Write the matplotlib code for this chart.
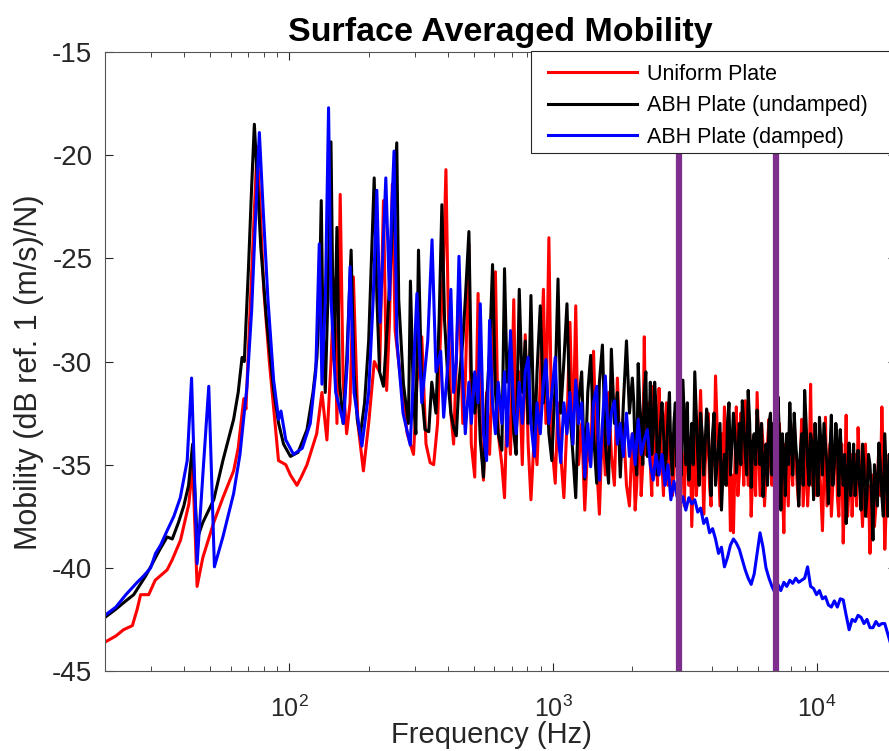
import numpy as np
import matplotlib
matplotlib.use("Agg")
from matplotlib import pyplot as plt
from matplotlib.patches import Rectangle

plt.rcParams['font.family'] = ['Liberation Sans', 'DejaVu Sans']
plt.rcParams['mathtext.fontset'] = 'custom'
plt.rcParams['mathtext.rm'] = 'Liberation Sans'
plt.rcParams['mathtext.it'] = 'Liberation Sans:italic'
plt.rcParams['mathtext.bf'] = 'Liberation Sans:bold'
plt.rcParams['axes.unicode_minus'] = False

# ---- low frequency part (resonances), each curve on its own points ----
uniform_f = [20, 22, 23.5, 25.4, 26.5, 27.3, 29.3, 31.0, 33, 34.4,
             36.0, 38.7, 41.6, 43.0, 44.7, 47, 51.7, 56, 61.5, 64,
             67.2, 68.5, 71, 73.5, 75.5, 77.5, 80, 84, 91, 97,
             101, 106.9, 111, 116.7, 127, 133, 138.9, 144, 148, 151.6,
             156, 160, 165, 170, 175, 182, 191, 200, 210, 220,
             227.6, 234, 240, 245.9, 252, 265, 280, 295.9, 305, 318,
             330, 342, 352.8, 365, 375, 385, 392.7]
uniform_db = [-43.6, -43.3, -43.0, -42.8, -42.0, -41.3, -41.3, -40.6, -40.3, -40.1,
              -39.6, -38.65, -36.9, -35.0, -40.9, -39.5, -37.8, -36.6, -35.3, -34.2,
              -31.8, -32.3, -27.5, -23.0, -19.6, -22.5, -26.5, -30.0, -34.8, -35.0,
              -35.5, -36.0, -35.6, -35.0, -33.5, -31.5, -33.8, -30.0, -26.0, -33.0,
              -21.9, -31.0, -33.5, -32.0, -25.9, -33.0, -35.3, -33.0, -30.0, -30.5,
              -22.2, -31.4, -28.0, -21.4, -28.5, -31.0, -33.5, -34.5, -31.0, -28.8,
              -34.0, -34.9, -35.0, -33.0, -28.5, -25.0, -20.7]

undamped_f = [20, 22, 24, 25.7, 26.9, 28.5, 29.8, 32, 34.4, 36.0,
              38, 39.8, 41.5, 43.0, 44.7, 47, 51.7, 56, 61.5, 64,
              66.2, 67.5, 70, 72, 73.7, 75.5, 78, 82, 87.2, 91.1,
              95.1, 101, 108, 116.7, 123, 127.3, 130, 132.2, 134, 136.9,
              140, 143.9, 146, 148, 151.6, 155, 160, 165, 171.6, 176,
              181, 185.8, 193, 200, 209.9, 215, 220, 227.6, 236, 245,
              250, 255.6, 260, 271, 283, 288, 296, 302, 309, 318,
              327, 338, 347, 360, 370, 379, 388]
undamped_db = [-42.4, -42.0, -41.6, -41.3, -40.9, -40.4, -39.95, -39.2, -38.5, -38.6,
               -37.8, -37.0, -36.0, -34.0, -38.6, -37.8, -36.7, -34.8, -32.8, -31.5,
               -29.8, -30.0, -25.5, -21.5, -18.5, -21.0, -24.5, -28.0, -31.4, -33.0,
               -34.0, -34.6, -34.4, -33.3, -31.5, -29.8, -27.0, -22.2, -28.0, -31.5,
               -27.0, -19.35, -26.0, -30.0, -23.5, -31.0, -33.0, -30.0, -24.6, -30.5,
               -32.8, -33.6, -32.0, -29.0, -21.1, -27.0, -30.5, -31.2, -28.0, -24.0,
               -22.0, -19.4, -27.0, -31.1, -33.0, -26.1, -32.0, -33.5, -24.6, -31.5,
               -33.3, -33.4, -31.0, -32.5, -28.0, -22.4, -28.0]

damped_f = [20, 22, 24, 26.5, 28, 29.8, 31.1, 32.5, 34.4, 36.5,
            38.6, 41.0, 42.6, 44.7, 47, 49.5, 52.0, 56, 61.5, 65,
            69.1, 72, 74.5, 77.0, 79.5, 83, 87.2, 91.1, 93, 97,
            103.8, 112, 120.1, 126, 129.9, 133, 137, 140.9, 144, 150,
            160.5, 166, 170.1, 176, 188.5, 200, 208, 214.8, 221, 232.3,
            240, 244, 249.6, 256, 270, 287.6, 297, 304.8, 318, 335,
            347.8, 360, 375, 385]
damped_db = [-42.3, -41.9, -41.3, -40.7, -40.4, -40.0, -39.3, -38.9, -38.2, -37.5,
             -36.6, -34.8, -30.8, -39.8, -35.5, -31.2, -39.95, -38.5, -36.4, -34.5,
             -31.2, -27.5, -23.0, -18.9, -22.5, -27.0, -30.9, -32.8, -32.4, -33.8,
             -34.5, -34.2, -33.0, -30.5, -24.3, -31.1, -27.0, -17.7, -27.0, -31.5,
             -33.0, -30.0, -25.4, -31.5, -34.1, -31.5, -27.0, -21.7, -28.1, -21.1,
             -27.0, -23.0, -19.8, -29.0, -32.5, -34.05, -30.0, -26.7, -32.0, -29.0,
             -24.1, -30.5, -29.5, -32.7]

# ---- high frequency part, common frequency points ----
f_hi = [400, 410, 420, 430, 440, 455, 465, 480, 490, 505,
        520, 530, 545, 560, 575, 590, 605, 620, 640, 655,
        670, 690, 710, 725, 745, 765, 785, 805, 825, 850,
        870, 895, 920, 940, 965, 990, 1020, 1045, 1070, 1100,
        1130, 1160, 1190, 1220, 1250, 1285, 1320, 1355, 1390, 1425,
        1465, 1500, 1540, 1580, 1625, 1665, 1710, 1755, 1800, 1850,
        1900, 1950, 2000, 2050, 2105, 2160, 2220, 2280, 2340, 2400,
        2460, 2525, 2590, 2660, 2730, 2800, 2875, 2950, 3030, 3110,
        3190, 3275, 3360, 3450, 3540, 3630, 3730, 3825, 3925, 4030,
        4135, 4245, 4355, 4470, 4590, 4710, 4835, 4960, 5090, 5225,
        5360, 5500, 5645, 5795, 5945, 6100, 6260, 6425, 6595, 6770,
        6945, 7130, 7315, 7510, 7705, 7910, 8115, 8330, 8550, 8775,
        9005, 9240, 9485, 9735, 9990, 10250, 10520, 10800, 11080, 11370,
        11670, 11980, 12290, 12610, 12940, 13280, 13630, 13990, 14360, 14740,
        15120, 15520, 15930, 16350, 16780, 17220, 17670, 18130, 18610, 19100,
        19600, 20000]

uniform_hi = [-27.0, -32.5, -34.0, -30.0, -26.0, -33.0, -31.0, -24.3, -34.0, -35.6,
              -26.7, -33.0, -35.75, -31.5, -34.5, -30.0, -25.65, -33.5, -35.0, -36.6,
              -32.0, -34.5, -27.0, -33.5, -30.5, -35.0, -28.7, -34.0, -36.7, -33.5,
              -35.0, -31.0, -26.5, -33.0, -24.0, -34.0, -35.9, -32.0, -34.5, -36.6,
              -33.0, -28.1, -34.0, -27.3, -35.0, -33.0, -37.2, -34.0, -35.0, -29.5,
              -35.0, -37.4, -33.0, -35.5, -31.5, -34.5, -36.0, -30.8, -35.0, -33.0,
              -36.0, -37.0, -33.5, -37.2, -34.0, -36.5, -28.8, -33.0, -35.0, -31.2,
              -34.0, -31.3, -35.0, -33.0, -36.0, -33.5, -35.5, -34.0, -36.5, -35.0,
              -33.5, -36.0, -38.0, -33.0, -35.5, -31.4, -37.4, -34.0, -36.0, -33.5,
              -30.7, -35.0, -33.5, -32.2, -36.0, -38.2, -38.3, -32.2, -35.5, -34.0,
              -31.9, -36.0, -37.5, -34.5, -31.5, -36.5, -34.0, -35.5, -32.8, -36.0,
              -34.5, -36.5, -35.0, -38.3, -35.5, -33.2, -36.0, -34.5, -37.0, -32.8,
              -35.5, -37.0, -31.1, -34.5, -36.5, -35.0, -38.2, -32.7, -35.5, -37.5,
              -34.5, -36.5, -35.0, -38.8, -32.6, -36.0, -37.5, -34.5, -33.2, -36.5,
              -35.0, -37.5, -39.3, -35.5, -37.0, -34.0, -32.2, -39.1, -36.0, -37.5,
              -35.5, -36.5]

undamped_hi = [-31.0, -32.5, -33.2, -33.6, -31.0, -29.0, -27.0, -23.7, -30.5, -32.5,
               -31.0, -33.8, -35.6, -32.0, -29.5, -25.3, -31.5, -33.5, -34.3, -25.5,
               -31.0, -29.0, -33.5, -34.5, -26.5, -31.5, -29.0, -33.0, -26.8, -34.3,
               -30.5, -27.3, -32.0, -30.0, -33.5, -34.8, -31.0, -26.0, -32.5, -30.0,
               -27.2, -32.5, -34.5, -36.6, -32.0, -30.5, -35.7, -31.5, -29.7, -33.5,
               -35.9, -31.0, -29.2, -34.0, -35.9, -29.4, -33.0, -31.5, -35.6, -32.0,
               -29.0, -32.5, -30.8, -34.5, -30.1, -33.0, -31.5, -34.6, -31.0, -33.5,
               -32.2, -34.5, -32.0, -35.3, -32.7, -34.5, -33.0, -35.1, -34.0, -30.9,
               -35.0, -35.75, -33.0, -30.5, -34.5, -32.5, -35.5, -32.3, -35.0, -33.5,
               -36.0, -34.0, -37.2, -34.5, -33.0, -35.5, -32.5, -35.4, -33.0, -31.9,
               -34.5, -31.4, -36.1, -33.5, -32.35, -35.0, -36.55, -34.0, -33.0, -35.5,
               -34.0, -31.7, -37.2, -34.5, -33.5, -32.0, -35.5, -34.0, -37.0, -33.5,
               -31.4, -35.0, -33.5, -36.7, -34.5, -32.7, -35.5, -34.0, -36.9, -32.6,
               -35.0, -34.0, -33.3, -36.0, -37.85, -33.95, -35.5, -36.5, -34.3, -37.2,
               -35.0, -36.5, -35.0, -38.65, -36.0, -33.95, -36.5, -33.5, -37.5, -35.5,
               -36.5, -35.5]

damped_hi = [-30.0, -26.5, -31.5, -30.0, -24.9, -31.0, -33.5, -31.0, -33.0, -30.5,
             -32.0, -27.2, -33.5, -34.8, -28.0, -32.0, -33.5, -31.0, -33.0, -30.5,
             -34.1, -28.5, -32.5, -33.5, -31.0, -33.0, -30.5, -29.8, -33.0, -34.6,
             -32.0, -33.5, -31.0, -29.9, -33.0, -31.5, -29.8, -33.5, -34.9, -32.0,
             -33.5, -31.5, -34.0, -30.9, -33.0, -32.0, -35.6, -33.0, -35.1, -32.0,
             -31.2, -35.75, -33.0, -30.7, -34.0, -32.5, -31.9, -34.0, -33.0, -34.6,
             -32.5, -34.6, -33.5, -35.0, -32.8, -34.5, -33.8, -33.3, -35.0, -35.75,
             -34.5, -35.5, -34.5, -36.0, -35.0, -36.7, -35.8, -36.5, -37.0, -36.55,
             -37.2, -36.6, -36.9, -36.7, -37.3, -37.1, -37.85, -37.6, -38.3, -38.1,
             -38.6, -39.3, -39.0, -39.95, -39.5, -38.9, -38.6, -38.8, -39.1, -39.6,
             -40.1, -40.5, -40.8, -40.3, -39.3, -38.3, -39.0, -40.0, -40.5, -40.9,
             -41.2, -40.8, -41.1, -40.7, -40.9, -40.6, -40.75, -40.5, -40.7, -40.6,
             -40.5, -39.95, -40.9, -41.0, -41.3, -41.1, -41.5, -41.4, -41.8, -41.9,
             -41.6, -41.9, -41.5, -41.55, -42.3, -43.0, -42.5, -42.6, -42.3, -42.4,
             -42.7, -42.5, -42.9, -42.9, -42.6, -42.8, -42.7, -42.7, -43.2, -43.7,
             -43.5, -43.8]

# ---- extra in-between points above 2 kHz (dense part of the two undamped curves) ----
f_mid = [2025, 2078, 2132, 2190, 2250, 2310, 2370, 2430, 2492, 2557,
         2625, 2695, 2765, 2837, 2912, 2990, 3070, 3150, 3232, 3317,
         3405, 3495, 3585, 3680, 3777, 3875, 3977, 4082, 4190, 4300,
         4412, 4530, 4650, 4772, 4897, 5025, 5157, 5292, 5430, 5572,
         5720, 5870, 6022, 6180, 6342, 6510, 6682, 6857, 7037, 7222,
         7412, 7607, 7807, 8012, 8222, 8440, 8662, 8890, 9122, 9362,
         9610, 9862, 10120, 10385, 10660, 10940, 11225, 11520, 11825, 12135,
         12450, 12775, 13110, 13455, 13810, 14175, 14550, 14930, 15320, 15725,
         16140, 16565, 17000, 17445, 17900, 18370, 18855, 19350, 19800]

uniform_mid = [-35.0, -36.0, -32.5, -35.0, -34.5, -32.0, -36.5, -35.5, -36.0, -33.5,
               -36.5, -32.0, -34.0, -36.5, -33.0, -35.0, -34.0, -37.0, -34.5, -34.0,
               -35.5, -36.5, -33.5, -34.5, -35.0, -32.5, -37.0, -35.0, -33.0, -37.0,
               -35.5, -34.0, -34.5, -35.5, -35.0, -36.5, -32.5, -36.0, -34.0, -33.5,
               -35.5, -36.5, -34.0, -33.0, -37.0, -34.0, -35.0, -33.0, -33.5, -33.0,
               -36.0, -34.0, -37.0, -35.0, -33.0, -36.0, -35.0, -37.0, -34.0, -35.5,
               -36.0, -33.0, -34.0, -36.5, -35.5, -37.0, -34.0, -36.0, -33.5, -37.5,
               -34.0, -36.0, -37.5, -34.5, -35.5, -37.0, -35.0, -38.0, -34.0, -36.0,
               -37.0, -38.0, -36.0, -36.5, -35.0, -37.0, -34.5, -38.0, -37.5]

undamped_mid = [-32.0, -35.5, -32.0, -35.0, -30.5, -33.5, -34.5, -31.0, -35.5, -33.0,
                -33.5, -34.5, -31.5, -35.5, -32.0, -33.0, -35.5, -33.0, -32.0, -34.5,
                -35.0, -32.5, -36.0, -33.5, -34.0, -33.0, -36.5, -32.5, -35.0, -33.0,
                -35.5, -36.0, -32.0, -34.0, -33.5, -34.5, -35.0, -33.0, -35.5, -33.0,
                -34.0, -35.0, -33.5, -33.0, -35.0, -36.0, -32.5, -33.0, -35.5, -33.5,
                -33.5, -36.5, -35.0, -34.0, -32.5, -35.0, -34.5, -36.0, -33.0, -36.0,
                -34.0, -33.0, -36.5, -34.0, -33.0, -35.0, -34.5, -36.0, -33.0, -36.5,
                -35.0, -34.5, -35.5, -36.5, -34.0, -35.5, -36.0, -34.0, -37.5, -34.5,
                -36.5, -35.0, -37.0, -35.0, -37.5, -35.5, -34.5, -37.0, -34.5]

band_edges = [3000, 7000]
yticks = [-45, -40, -35, -30, -25, -20, -15]


def join(*parts):
    f = np.concatenate([np.asarray(p[0], float) for p in parts])
    v = np.concatenate([np.asarray(p[1], float) for p in parts])
    order = np.argsort(f, kind='stable')
    return f[order], v[order]


uni_f, uni_v = join((uniform_f, uniform_db), (f_hi, uniform_hi), (f_mid, uniform_mid))
und_f, und_v = join((undamped_f, undamped_db), (f_hi, undamped_hi), (f_mid, undamped_mid))
dam_f, dam_v = join((damped_f, damped_db), (f_hi, damped_hi))

fig = plt.figure(figsize=(8.89, 7.51), dpi=100)
ax = fig.add_axes([0.1181, 0.1065, 0.8898, 0.8242])

ax.semilogx(uni_f, uni_v, color=(1, 0, 0), lw=2.2, label='Uniform Plate')
ax.semilogx(und_f, und_v, color='k', lw=2.2, label='ABH Plate (undamped)')
ax.semilogx(dam_f, dam_v, color=(0, 0, 1), lw=2.2, label='ABH Plate (damped)')
for fe in band_edges:
    ax.axvline(fe, color='#7E2F8E', lw=4.5, zorder=5)

ax.set_xlim(20, 20000)
ax.set_ylim(-45, -15)
ax.set_yticks(yticks)
ax.tick_params(which='both', direction='in', top=True, right=True, colors='#262626')
ax.tick_params(which='major', length=6)
ax.tick_params(which='minor', length=3.5)
ax.tick_params(axis='y', labelsize=20, pad=9)
ax.tick_params(axis='x', labelsize=18, pad=18)
for s in ax.spines.values():
    s.set_color('#555555')
    s.set_linewidth(0.8)

ax.set_title('Surface Averaged Mobility', fontsize=24.5, fontweight='bold', pad=8)
ax.set_xlabel('Frequency (Hz)', fontsize=21, color='#262626', va='top')
ax.xaxis.set_label_coords(0.488, -0.080)
ax.set_ylabel('Mobility (dB ref. 1 (m/s)/N)', fontsize=22, color='#262626')
ax.yaxis.set_label_coords(-0.077, 0.483)

# legend: frame drawn as a separate box so it can run past the right edge
frame = Rectangle((0.5386, 0.8368), 0.48, 0.1652, transform=ax.transAxes,
                  facecolor='white', edgecolor='#262626', lw=0.8, clip_on=False, zorder=9)
ax.add_patch(frame)
leg = ax.legend(loc='upper left', bbox_to_anchor=(0.5487, 0.9955), borderaxespad=0,
                fontsize=15.5, handlelength=4.14, handletextpad=0.47, borderpad=0.42,
                labelspacing=0.49, frameon=False)
leg.set_zorder(10)

fig.savefig('out.png', dpi=100)
